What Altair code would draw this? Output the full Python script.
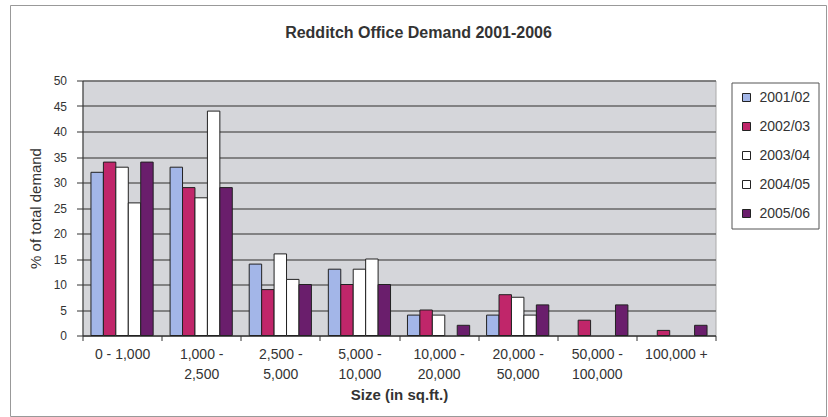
import altair as alt
import pandas as pd

categories = ["0 - 1,000", "1,000 - 2,500", "2,500 - 5,000", "5,000 - 10,000",
              "10,000 - 20,000", "20,000 - 50,000", "50,000 - 100,000", "100,000 +"]
series = ["2001/02", "2002/03", "2003/04", "2004/05", "2005/06"]
v2001_02 = [32, 33, 14, 13, 4, 4, 0, 0]
v2002_03 = [34, 29, 9, 10, 5, 8, 3, 1]
v2003_04 = [33, 27, 16, 13, 4, 7.5, 0, 0]
v2004_05 = [26, 44, 11, 15, 0, 4, 0, 0]
v2005_06 = [34, 29, 10, 10, 2, 6, 6, 2]
colors = ["#A3B6E8", "#C0266A", "#FFFFFF", "#FFFFFF", "#6A1E6C"]

rows = []
for s, vals in zip(series, [v2001_02, v2002_03, v2003_04, v2004_05, v2005_06]):
    for c, v in zip(categories, vals):
        rows.append({"size": c, "period": s, "value": v})
df = pd.DataFrame(rows)

FONT = "Liberation Sans"

bars = alt.Chart(df).transform_filter("datum.value > 0").mark_bar(
    stroke="#222222", strokeWidth=1
).encode(
    x=alt.X("size:N", sort=categories,
            scale=alt.Scale(paddingInner=0, paddingOuter=0),
            axis=alt.Axis(title="Size (in sq.ft.)", labelAngle=0, tickBand="extent",
                          labelExpr="datum.label == '0 - 1,000' ? datum.label : split(replace(datum.label, ' - ', ' -|'), '|')",
                          labelFontSize=14, labelLineHeight=20, labelPadding=7,
                          labelColor="#333", tickSize=5, tickColor="#333",
                          domainColor="#333", titleFontSize=15, titleFontWeight="bold",
                          titleColor="#333", titlePadding=6, labelFont=FONT, titleFont=FONT,
                          grid=False)),
    xOffset=alt.XOffset("period:N", sort=series,
                        scale=alt.Scale(paddingInner=0, paddingOuter=0.68)),
    y=alt.Y("value:Q", scale=alt.Scale(domain=[0, 50]),
            axis=alt.Axis(title="% of total demand", values=list(range(0, 51, 5)),
                          labelFontSize=12, labelColor="#333", labelPadding=10,
                          tickSize=6, tickColor="#333", domainColor="#333",
                          gridColor="#666666", gridWidth=1.3,
                          titleFontSize=15, titleFontWeight="normal", titleColor="#333",
                          titlePadding=10, labelFont=FONT, titleFont=FONT)),
    color=alt.Color("period:N", sort=series,
                    scale=alt.Scale(domain=series, range=colors),
                    legend=alt.Legend(title=None, orient="none", legendX=649, legendY=2,
                                      symbolType="square", symbolSize=64,
                                      symbolStrokeColor="#222", symbolStrokeWidth=1,
                                      labelFontSize=14, labelFont=FONT, labelColor="#333",
                                      labelOffset=6, rowPadding=15, padding=8,
                                      strokeColor="#555", fillColor="#FFFFFF")),
)

frame = alt.Chart(pd.DataFrame({"f": [0]})).mark_rect(
    filled=False, stroke="#999999", strokeWidth=1
).encode(
    x=alt.value(-72), x2=alt.value(744), y=alt.value(-75), y2=alt.value(336)
)

chart = alt.layer(frame, bars).properties(
    width=633, height=255,
    padding={"left": 9.5, "top": 4.5, "right": 0, "bottom": 0},
    background="#FFFFFF",
    title=alt.Title("Redditch Office Demand 2001-2006", fontSize=16, font=FONT,
                    fontWeight="bold", color="#333", anchor="middle", frame="bounds",
                    offset=-36),
).configure_view(fill="#D5D6DA", stroke="#AAAAAA")

chart.save("out.html", embed_options={"renderer": "svg", "actions": False})
